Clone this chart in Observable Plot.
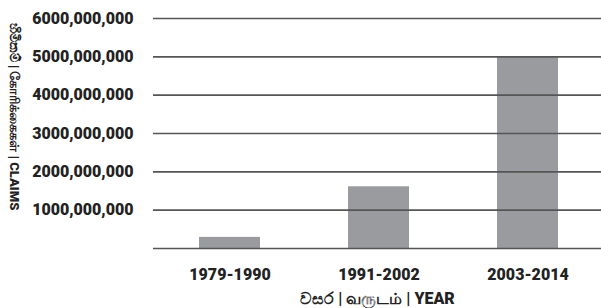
<!DOCTYPE html>
<html>
<head>
<meta charset="utf-8">
<script src="https://cdn.jsdelivr.net/npm/d3@7"></script>
<script src="https://cdn.jsdelivr.net/npm/@observablehq/plot@0.6"></script>
<style>
  html, body { margin: 0; padding: 0; background: #fff; }
  #chart svg { display: block; }
</style>
</head>
<body>
<div id="chart"></div>
<script>
const periods = ["1979-1990", "1991-2002", "2003-2014"];
const claims = [290000000, 1610000000, 4990000000];
const yTicks = [1000000000, 2000000000, 3000000000, 4000000000, 5000000000, 6000000000];
const yTickLabels = ["1000,000,000", "2000,000,000", "3000,000,000", "4000,000,000", "5000,000,000", "6000,000,000"];
const xTitle = "වසර | வருடம் | YEAR";
const yTitle = "හිමිකම් | கோரிக்கைகள் | CLAIMS";

const data = periods.map((p, i) => ({period: p, value: claims[i]}));

const chart = Plot.plot({
  width: 601,
  height: 308,
  marginLeft: 153,
  marginRight: 0,
  marginTop: 18,
  marginBottom: 60,
  style: {fontFamily: "Roboto, 'Noto Sans', sans-serif", fontWeight: 700, color: "#222", background: "#fff"},
  x: {domain: periods, range: [154, 604], paddingInner: 0.59, paddingOuter: 0.3},
  y: {domain: [0, 6000000000]},
  marks: [
    Plot.barY(data, {x: "period", y: "value", fill: "#9a9b9f"}),
    Plot.ruleY(yTicks.concat([0]), {stroke: "#555", strokeWidth: 1.6}),
    Plot.axisY({
      ticks: yTicks,
      tickFormat: (d) => yTickLabels[yTicks.indexOf(d)],
      tickSize: 0,
      tickPadding: 20,
      fontSize: 16,
      fontWeight: 900,
      label: null
    }),
    Plot.axisX({
      tickSize: 0,
      tickPadding: 20,
      fontSize: 16,
      fontWeight: 900,
      label: xTitle,
      labelAnchor: "center",
      labelArrow: "none",
      labelOffset: 55
    }),
    Plot.text([yTitle], {frameAnchor: "left", textAnchor: "middle", dx: -139, dy: -17, rotate: 90, fontSize: 13, fontWeight: 900, fill: "#222"})
  ]
});
document.getElementById("chart").appendChild(chart);
</script>
</body>
</html>
